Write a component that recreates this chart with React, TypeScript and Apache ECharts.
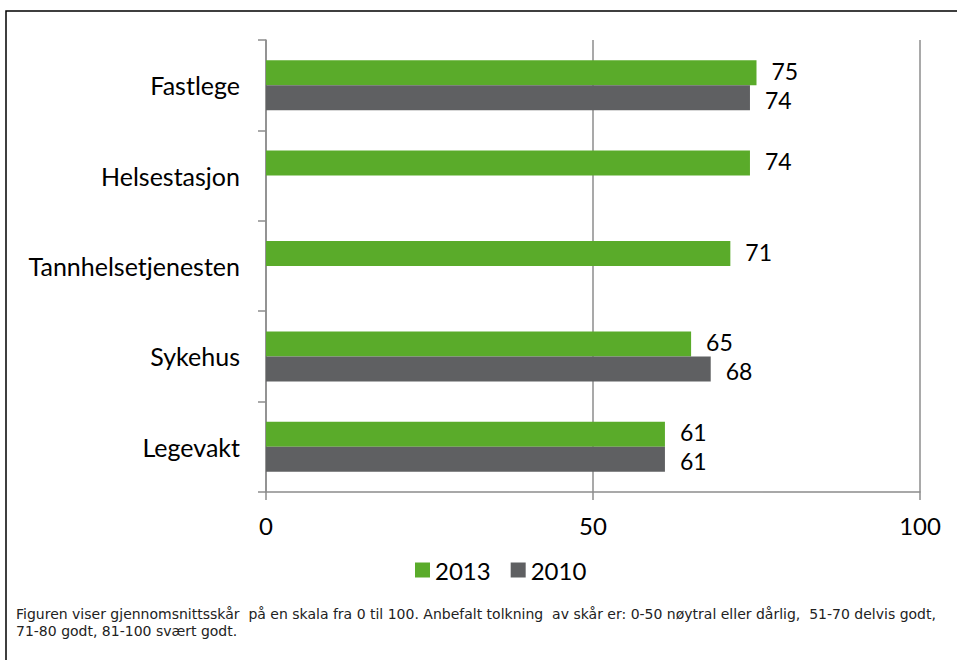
import React, { useEffect, useRef } from "react";
import * as echarts from "echarts";

const categories = ["Fastlege", "Helsestasjon", "Tannhelsetjenesten", "Sykehus", "Legevakt"];
const series2013 = [75, 74, 71, 65, 61];
const series2010: (number | null)[] = [74, null, null, 68, 61];
const xTicks = [0, 50, 100];
const footnote1 =
  "Figuren viser gjennomsnittsskår  på en skala fra 0 til 100. Anbefalt tolkning  av skår er: 0-50 nøytral eller dårlig,  51-70 delvis godt,";
const footnote2 = "71-80 godt, 81-100 svært godt.";

const FONT = "Lato, 'Open Sans', sans-serif";
const NOTE_FONT = "'DejaVu Sans', Verdana, sans-serif";

export default function App() {
  const ref = useRef<HTMLDivElement>(null);
  useEffect(() => {
    if (!ref.current) return;
    const chart = echarts.init(ref.current, undefined, { renderer: "svg" });
    const axisColor = "#8c8c8c";
    const labelBase = { show: true, position: "right", distance: 15, fontSize: 23, color: "#000", fontFamily: FONT };
    chart.setOption({
      animation: false,
      backgroundColor: "#ffffff",
      textStyle: { fontFamily: FONT },
      grid: { left: 266, right: 37, top: 40, bottom: 168 },
      legend: {
        data: ["2013", "2010"],
        top: 553,
        left: 410,
        itemWidth: 15,
        itemHeight: 15,
        itemGap: 20,
        icon: "rect",
        textStyle: { fontSize: 24, color: "#000", fontFamily: FONT },
      },
      xAxis: {
        type: "value",
        min: xTicks[0],
        max: xTicks[xTicks.length - 1],
        interval: 50,
        axisLine: { show: true, lineStyle: { color: axisColor, width: 1.5 } },
        axisTick: { show: true, length: 8, lineStyle: { color: axisColor, width: 1.5 } },
        splitLine: { show: true, lineStyle: { color: axisColor, width: 1.5 } },
        axisLabel: { fontSize: 24, color: "#000", margin: 21, fontFamily: FONT },
      },
      yAxis: {
        type: "category",
        data: categories,
        inverse: true,
        axisLine: { show: true, lineStyle: { color: axisColor, width: 1.5 } },
        axisTick: { show: true, length: 8, lineStyle: { color: axisColor, width: 1.5 } },
        axisLabel: { fontSize: 25, color: "#000", margin: 26, fontFamily: FONT },
      },
      series: [
        {
          name: "2013",
          type: "bar",
          data: series2013,
          barWidth: 25,
          barGap: "0%",
          itemStyle: { color: "#5aab2a" },
          label: { ...labelBase, offset: [0, -2] },
        },
        {
          name: "2010",
          type: "bar",
          data: series2010,
          barWidth: 25,
          barGap: "0%",
          itemStyle: { color: "#5f6062" },
          label: { ...labelBase, offset: [0, 2] },
        },
      ],
      graphic: [
        {
          type: "rect",
          shape: { x: 6, y: 11, width: 1000, height: 700 },
          style: { fill: "none", stroke: "#000", lineWidth: 1.5 },
          silent: true,
        },
        {
          type: "text",
          left: 16,
          top: 607,
          style: { text: footnote1, fontSize: 14, fill: "#222", fontFamily: NOTE_FONT },
        },
        {
          type: "text",
          left: 16,
          top: 624,
          style: { text: footnote2, fontSize: 14, fill: "#222", fontFamily: NOTE_FONT },
        },
      ],
    });
    return () => chart.dispose();
  }, []);
  return (
    <div
      ref={ref}
      style={{ position: "fixed", left: 0, top: 0, width: 957, height: 660, background: "#fff" }}
    />
  );
}
